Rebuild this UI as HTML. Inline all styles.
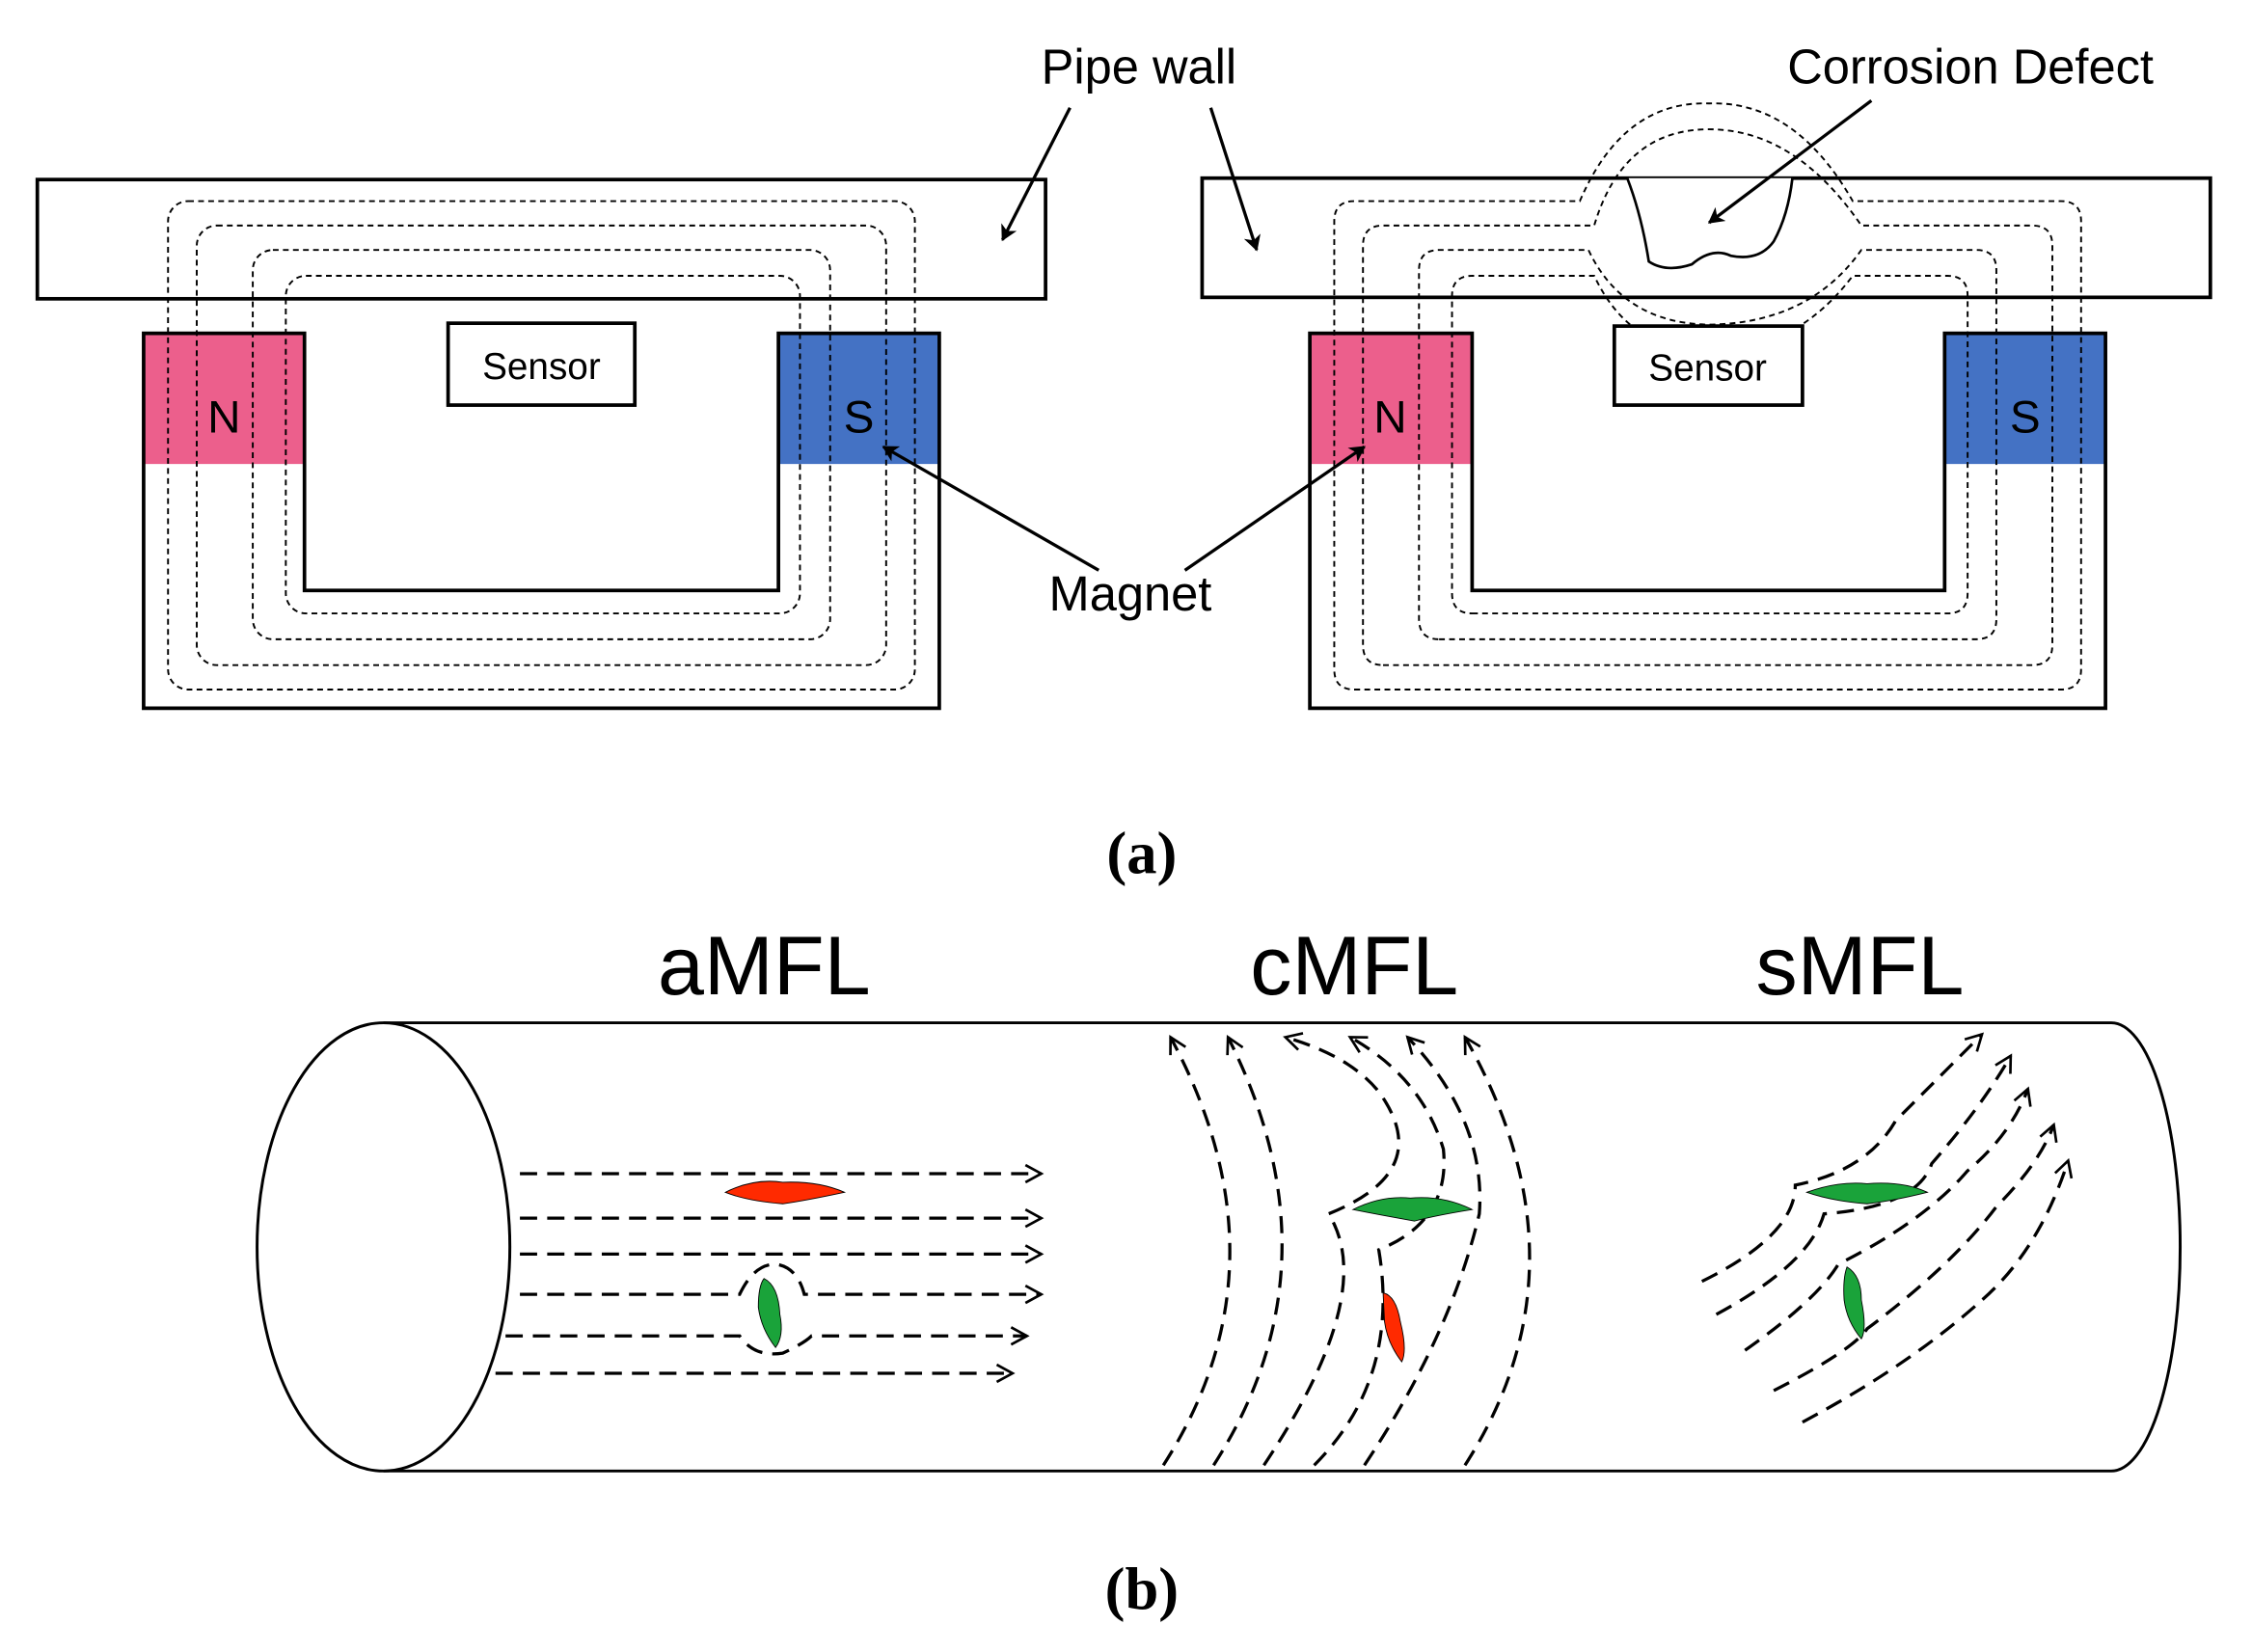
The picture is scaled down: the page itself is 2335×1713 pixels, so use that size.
<!DOCTYPE html>
<html><head><meta charset="utf-8"><style>
html,body{margin:0;padding:0;background:#fff;}
svg{display:block;}
text{font-family:"Liberation Sans","DejaVu Sans",sans-serif;}
</style></head><body>
<svg width="2335" height="1713" viewBox="0 0 1568 1150" preserveAspectRatio="none" xmlns="http://www.w3.org/2000/svg">
<defs>
<marker id="ah" markerWidth="12" markerHeight="12" refX="10" refY="6" orient="auto" markerUnits="userSpaceOnUse">
<path d="M0,0 L11,6 L0,12 L3,6 Z" fill="#000"/></marker>
<marker id="oa" markerWidth="14" markerHeight="14" refX="12" refY="7" orient="auto" markerUnits="userSpaceOnUse">
<path d="M1,1 L12,7 L1,13" fill="none" stroke="#000" stroke-width="1.8"/></marker>
</defs>
<rect width="1568" height="1150" fill="#fff"/>

<g fill="none" stroke="#000">
<rect x="100" y="232" width="112" height="91" fill="#ec5f8c" stroke="none"/>
<rect x="542" y="232" width="112" height="91" fill="#4472c4" stroke="none"/>
<path d="M100,232 H212 V411 H542 V232 H654 V493 H100 Z" stroke-width="2.5"/>
<rect x="26" y="125" width="702" height="83" stroke-width="2.5" fill="#fff"/>
<g stroke-dasharray="4,3" stroke-width="1.3">
<rect x="117" y="140" width="520" height="340" rx="14"/>
<rect x="137" y="157" width="480" height="306" rx="14"/>
<rect x="176" y="174" width="402" height="271" rx="14"/>
<rect x="199" y="192" width="358" height="235" rx="14"/>
</g>
<rect x="312" y="225" width="130" height="57" stroke-width="2.5" fill="#fff"/>
</g>
<text x="377" y="264" font-size="26" text-anchor="middle">Sensor</text>
<text x="156" y="301" font-size="32" text-anchor="middle">N</text>
<text x="598" y="301" font-size="32" text-anchor="middle">S</text>

<g fill="none" stroke="#000">
<rect x="912" y="232" width="113" height="91" fill="#ec5f8c" stroke="none"/>
<rect x="1354" y="232" width="112" height="91" fill="#4472c4" stroke="none"/>
<path d="M912,232 H1025 V411 H1354 V232 H1466 V493 H912 Z" stroke-width="2.5"/>
<rect x="837" y="124" width="702" height="83" stroke-width="2.5" fill="#fff"/>
<g stroke-dasharray="4,3" stroke-width="1.3">
<path d="M943,480 H1435 Q1449,480 1449,466 V154 Q1449,140 1435,140 H1290 Q1250,70 1190,72 Q1130,70 1100,140 H943 Q929,140 929,154 V466 Q929,480 943,480 Z"/>
<path d="M963,463 H1415 Q1429,463 1429,449 V171 Q1429,157 1415,157 H1296 Q1250,90 1190,90 Q1130,90 1110,157 H963 Q949,157 949,171 V449 Q949,463 963,463 Z"/>
<path d="M1002,445 H1376 Q1390,445 1390,431 V188 Q1390,174 1376,174 H1296 Q1260,225 1190,226 Q1130,225 1106,174 H1002 Q988,174 988,188 V431 Q988,445 1002,445 Z"/>
<path d="M1025,427 H1356 Q1370,427 1370,413 V206 Q1370,192 1356,192 H1290 Q1250,245 1190,244 Q1135,245 1110,192 H1025 Q1011,192 1011,206 V413 Q1011,427 1025,427 Z"/>
</g>
<path d="M1133,124 Q1143,150 1148,182 Q1160,190 1178,184 Q1192,172 1205,178 Q1225,182 1235,168 Q1245,150 1248,124" stroke-width="1.8" fill="#fff"/>
<rect x="1124" y="227" width="131" height="55" stroke-width="2.5" fill="#fff"/>
</g>
<text x="1189" y="265" font-size="26" text-anchor="middle">Sensor</text>
<text x="968" y="301" font-size="32" text-anchor="middle">N</text>
<text x="1410" y="301" font-size="32" text-anchor="middle">S</text>

<text x="793" y="58" font-size="34" text-anchor="middle">Pipe wall</text>
<text x="1372" y="58" font-size="34" text-anchor="middle">Corrosion Defect</text>
<text x="787" y="425" font-size="34" text-anchor="middle">Magnet</text>
<g stroke="#000" stroke-width="2.2" marker-end="url(#ah)">
<line x1="745" y1="75" x2="698" y2="167"/>
<line x1="843" y1="75" x2="875" y2="174"/>
<line x1="1303" y1="70" x2="1190" y2="155"/>
<line x1="765" y1="397" x2="615" y2="311"/>
<line x1="825" y1="397" x2="950" y2="311"/>
</g>
<text x="795" y="608" font-size="42" font-weight="bold" text-anchor="middle" style="font-family:'Liberation Serif',serif">(a)</text>
<text x="795" y="1120" font-size="42" font-weight="bold" text-anchor="middle" style="font-family:'Liberation Serif',serif">(b)</text>

<g fill="none" stroke="#000" stroke-width="2">
<path d="M267,712 H1470 A48,156 0 0 1 1470,1024 H267"/>
<ellipse cx="267" cy="868" rx="88" ry="156" fill="#fff"/>
</g>
<text x="532" y="692" font-size="58" text-anchor="middle">aMFL</text>
<text x="943" y="692" font-size="58" text-anchor="middle">cMFL</text>
<text x="1295" y="692" font-size="58" text-anchor="middle">sMFL</text>

<g fill="none" stroke="#000" stroke-width="2.2" stroke-dasharray="12,7">
<path d="M362,817 H725" marker-end="url(#oa)"/>
<path d="M362,848 H725" marker-end="url(#oa)"/>
<path d="M362,873 H725" marker-end="url(#oa)"/>
<path d="M362,901 H515 Q525,880 540,880 Q555,882 560,901 H725" marker-end="url(#oa)"/>
<path d="M352,930 H515 Q525,945 545,942 Q560,935 565,930 H715" marker-end="url(#oa)"/>
<path d="M345,956 H705" marker-end="url(#oa)"/>
<path d="M810,1020 Q900,880 815,722" marker-end="url(#oa)"/>
<path d="M845,1020 Q935,880 855,722" marker-end="url(#oa)"/>
<path d="M880,1020 Q960,900 925,845 Q1000,815 960,760 Q940,735 895,722" marker-end="url(#oa)"/>
<path d="M915,1020 Q975,960 960,870 Q1010,850 1005,800 Q990,750 940,722" marker-end="url(#oa)"/>
<path d="M950,1020 Q1010,930 1030,845 Q1035,780 980,722" marker-end="url(#oa)"/>
<path d="M1020,1020 Q1110,880 1020,722" marker-end="url(#oa)"/>
<path d="M1185,892 Q1250,860 1250,825 Q1300,815 1320,780 Q1350,750 1380,720" marker-end="url(#oa)"/>
<path d="M1195,915 Q1260,880 1270,845 Q1335,840 1345,810 Q1380,770 1400,735" marker-end="url(#oa)"/>
<path d="M1215,940 Q1265,905 1280,880 Q1340,850 1370,815 Q1400,790 1412,758" marker-end="url(#oa)"/>
<path d="M1235,968 Q1290,940 1300,925 Q1360,880 1390,840 Q1420,810 1430,783" marker-end="url(#oa)"/>
<path d="M1255,990 Q1330,950 1380,905 Q1420,870 1440,808" marker-end="url(#oa)"/>
</g>
<path d="M505,830 Q525,820 545,823 Q570,822 588,830 Q560,836 545,838 Q520,836 505,830 Z" fill="#ff2a00" stroke="#000" stroke-width="0.6"/>
<path d="M532,890 Q542,895 543,915 Q546,930 540,938 Q530,925 528,910 Q528,895 532,890 Z" fill="#1aa33a" stroke="#000" stroke-width="0.6"/>
<path d="M942,842 Q962,832 982,834 Q1005,832 1025,842 Q1000,846 985,850 Q962,846 942,842 Z" fill="#1aa33a" stroke="#000" stroke-width="0.6"/>
<path d="M963,900 Q972,902 975,920 Q980,940 976,948 Q966,935 964,920 Z" fill="#ff2a00" stroke="#000" stroke-width="0.6"/>
<path d="M1258,830 Q1280,822 1300,824 Q1325,822 1342,830 Q1318,836 1300,838 Q1275,836 1258,830 Z" fill="#1aa33a" stroke="#000" stroke-width="0.6"/>
<path d="M1286,882 Q1296,888 1296,905 Q1300,925 1296,932 Q1286,920 1284,905 Q1283,890 1286,882 Z" fill="#1aa33a" stroke="#000" stroke-width="0.6"/>
</svg>
</body></html>
